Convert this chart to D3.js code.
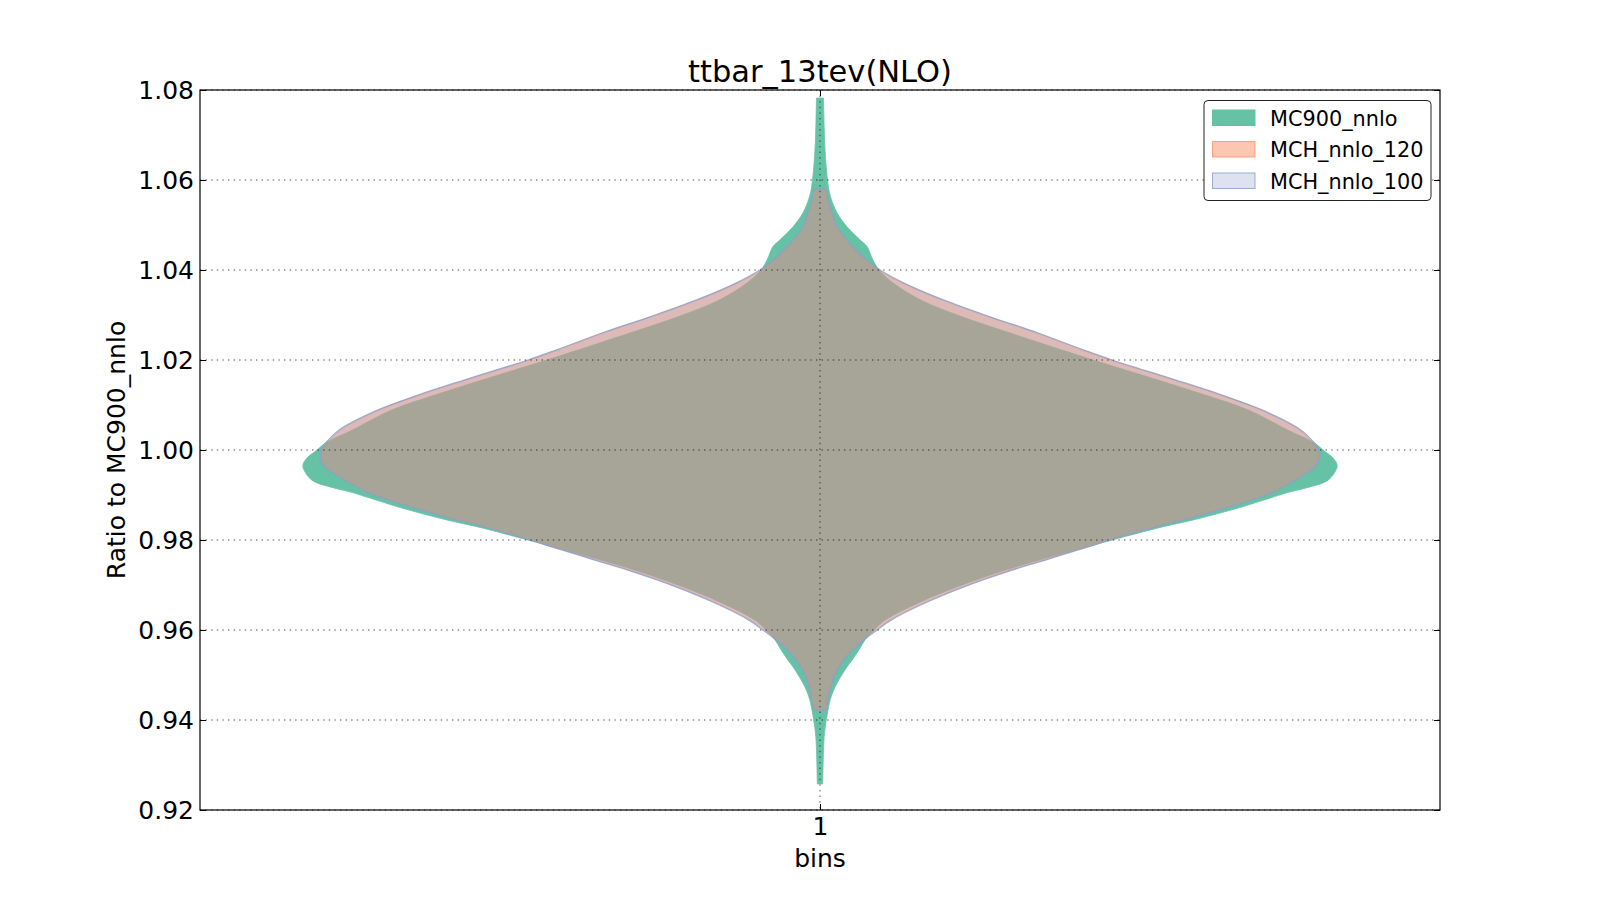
<!DOCTYPE html>
<html><head><meta charset="utf-8">
<script src="https://cdn.jsdelivr.net/npm/d3@7"></script>
<style>body{margin:0;background:#fff}</style>
</head><body>
<svg id="chart" width="1600" height="900"></svg>
<script>
const chartTitle = "ttbar_13tev(NLO)";
const xLabel = "bins";
const yLabel = "Ratio to MC900_nnlo";
const categories = ["1"];
const yTickValues = [0.92, 0.94, 0.96, 0.98, 1.00, 1.02, 1.04, 1.06, 1.08];
const seriesNames = ["MC900_nnlo", "MCH_nnlo_120", "MCH_nnlo_100"];

// MC900_nnlo: ratio levels and relative density (violin profile)
const mc900Levels = [1.0782,1.0733,1.0667,1.06,1.0567,1.0527,1.0496,1.0467,1.0452,1.0422,
  1.04,1.0371,1.0333,1.0296,1.026,1.0222,1.02,1.0156,1.0122,1.0089,
  1.0044,1.0016,1.0,0.9982,0.9967,0.9956,0.9933,0.9918,0.9907,0.9889,
  0.9871,0.986,0.9844,0.9829,0.98,0.9782,0.9756,0.9733,0.9696,0.966,
  0.9622,0.96,0.9578,0.9556,0.9533,0.9518,0.9482,0.9451,0.9422,0.9371,
  0.9333,0.9258];
const mc900Density = [0.0068,0.0077,0.0097,0.0145,0.0193,0.0329,0.0522,0.0774,0.0909,0.1025,
  0.1141,0.1412,0.1954,0.2747,0.3675,0.4681,0.5280,0.6518,0.7447,0.8279,
  0.9052,0.9555,0.9729,0.9923,1.0,0.9981,0.9826,0.9478,0.9091,0.8588,
  0.8085,0.7737,0.7195,0.6615,0.5648,0.5087,0.4255,0.3578,0.2650,0.1896,
  0.1257,0.1044,0.0870,0.0754,0.0619,0.0522,0.0329,0.0213,0.0155,0.0087,
  0.0068,0.0052];

// MCH_nnlo_120
const mch120Levels = [1.0579,1.0556,1.0527,1.0496,1.0467,1.0452,1.0422,1.04,1.0371,1.0333,
  1.0296,1.026,1.0222,1.02,1.0156,1.0122,1.0089,1.0044,1.0016,1.0,
  0.9982,0.9967,0.9956,0.9927,0.9907,0.9889,0.9871,0.9851,0.9829,0.98,
  0.9782,0.9756,0.9733,0.9696,0.966,0.9622,0.96,0.9578,0.9549,0.9518,
  0.9482,0.9451,0.9422];
const mch120Density = [0.0116,0.0145,0.0213,0.0309,0.0493,0.0609,0.0880,0.1132,0.1596,0.2369,
  0.3259,0.4188,0.5077,0.5619,0.6838,0.7747,0.8520,0.9275,0.9526,0.9623,
  0.9642,0.9584,0.9487,0.9081,0.8752,0.8327,0.7805,0.7205,0.6470,0.5580,
  0.5077,0.4342,0.3685,0.2756,0.2002,0.1344,0.1074,0.0822,0.0551,0.0348,
  0.0213,0.0155,0.0116];

// MCH_nnlo_100
const mch100Levels = [1.0579,1.0556,1.0527,1.0496,1.0467,1.0452,1.0422,1.04,1.0371,1.0333,
  1.0296,1.026,1.0222,1.02,1.0156,1.0122,1.0089,1.0044,1.0016,1.0,
  0.9982,0.9967,0.9956,0.9927,0.9907,0.9889,0.9871,0.9851,0.9829,0.98,
  0.9782,0.9756,0.9733,0.9696,0.966,0.9622,0.96,0.9578,0.9549,0.9518,
  0.9482,0.9451,0.9422];
const mch100Density = [0.0126,0.0155,0.0232,0.0329,0.0522,0.0638,0.0909,0.1161,0.1625,0.2398,
  0.3288,0.4217,0.5106,0.5648,0.6867,0.7776,0.8549,0.9304,0.9555,0.9652,
  0.9671,0.9613,0.9516,0.9110,0.8781,0.8356,0.7834,0.7234,0.6499,0.5609,
  0.5106,0.4371,0.3714,0.2785,0.2031,0.1373,0.1103,0.0851,0.0580,0.0368,
  0.0232,0.0164,0.0126];

const colors = ["#66c2a5", "#fc8d62", "#8da0cb"];
const fillAlpha = [1.0, 0.5, 0.3];

const series = [
  {name: seriesNames[0], levels: mc900Levels, density: mc900Density},
  {name: seriesNames[1], levels: mch120Levels, density: mch120Density},
  {name: seriesNames[2], levels: mch100Levels, density: mch100Density}
];

const plot = {left: 200, right: 1440, top: 90, bottom: 810};
const font = "DejaVu Sans, Liberation Sans, sans-serif";
const svg = d3.select("#chart");

const x = d3.scaleLinear().domain([0.5, 1.5]).range([plot.left, plot.right]);
const y = d3.scaleLinear().domain([0.92, 1.08]).range([plot.bottom, plot.top]);
const halfWidth = 0.417; // max violin half width in x units
const pos = 1;

const area = d3.area()
  .y(d => y(d.v))
  .x0(d => x(pos - d.d * halfWidth))
  .x1(d => x(pos + d.d * halfWidth))
  .curve(d3.curveCatmullRom.alpha(0.5));

const gV = svg.append("g");
series.forEach((s, i) => {
  const pts = s.levels.map((v, k) => ({v: v, d: s.density[k]}));
  const p = gV.append("path").attr("d", area(pts))
    .attr("fill", colors[i]).attr("fill-opacity", fillAlpha[i]);
  if (i === 0) {
    p.attr("stroke", colors[i]).attr("stroke-width", 0.8);
  } else if (i === 1) {
    p.attr("stroke", colors[i]).attr("stroke-opacity", 0.5).attr("stroke-width", 1);
  } else {
    p.attr("stroke", colors[i]).attr("stroke-opacity", 0.85).attr("stroke-width", 1.3);
  }
});

// grid (on top)
const grid = svg.append("g").attr("stroke", "#000").attr("stroke-width", 0.8)
  .attr("stroke-dasharray", "1.4,4.2").attr("opacity", 0.85);
yTickValues.forEach(t => {
  grid.append("line").attr("x1", plot.left).attr("x2", plot.right)
    .attr("y1", y(t)).attr("y2", y(t));
});
grid.append("line").attr("x1", x(pos)).attr("x2", x(pos))
  .attr("y1", plot.top).attr("y2", plot.bottom);

// axes
const fmt = d3.format(".2f");
const axL = svg.append("g").attr("transform", `translate(${plot.left},0)`)
  .call(d3.axisLeft(y).tickValues(yTickValues).tickFormat(fmt).tickSize(-6).tickPadding(6));
const axR = svg.append("g").attr("transform", `translate(${plot.right},0)`)
  .call(d3.axisRight(y).tickValues(yTickValues).tickFormat("").tickSize(-6));
const axB = svg.append("g").attr("transform", `translate(0,${plot.bottom})`)
  .call(d3.axisBottom(x).tickValues([pos]).tickFormat((d, i) => categories[i]).tickSize(-6).tickPadding(7));
const axT = svg.append("g").attr("transform", `translate(0,${plot.top})`)
  .call(d3.axisTop(x).tickValues([pos]).tickFormat("").tickSize(-6));
[axL, axR, axB, axT].forEach(a => {
  a.select(".domain").remove();
  a.selectAll(".tick line").attr("stroke", "#000").attr("stroke-width", 1);
  a.selectAll(".tick text").attr("font-family", font).attr("font-size", 25).attr("fill", "#000");
});

svg.append("rect").attr("x", plot.left).attr("y", plot.top)
  .attr("width", plot.right - plot.left).attr("height", plot.bottom - plot.top)
  .attr("fill", "none").attr("stroke", "#000").attr("stroke-width", 1.2);

// labels
svg.append("text").attr("x", (plot.left + plot.right) / 2).attr("y", 82)
  .attr("text-anchor", "middle").attr("font-family", font).attr("font-size", 30.5)
  .text(chartTitle);
svg.append("text").attr("x", (plot.left + plot.right) / 2).attr("y", 867)
  .attr("text-anchor", "middle").attr("font-family", font).attr("font-size", 25)
  .text(xLabel);
svg.append("text").attr("transform", `translate(124.5,${(plot.top + plot.bottom) / 2}) rotate(-90)`)
  .attr("text-anchor", "middle").attr("font-family", font).attr("font-size", 25)
  .text(yLabel);

// legend
const lg = svg.append("g");
lg.append("rect").attr("x", 1204).attr("y", 100.5).attr("width", 227).attr("height", 100)
  .attr("rx", 4).attr("fill", "#fff").attr("stroke", "#222").attr("stroke-width", 1);
seriesNames.forEach((nm, i) => {
  const yy = 110 + i * 31.5;
  const r = lg.append("rect").attr("x", 1212.5).attr("y", yy).attr("width", 42.5).attr("height", 15.5)
    .attr("fill", colors[i]).attr("fill-opacity", fillAlpha[i]);
  if (i === 0) r.attr("stroke", colors[i]).attr("stroke-width", 1);
  else if (i === 1) r.attr("stroke", colors[i]).attr("stroke-opacity", 0.75).attr("stroke-width", 1);
  else r.attr("stroke", colors[i]).attr("stroke-opacity", 0.85).attr("stroke-width", 1);
  lg.append("text").attr("x", 1270).attr("y", yy + 15.5).attr("font-family", font)
    .attr("font-size", 20.8).attr("fill", "#000").text(nm);
});
</script>
</body></html>
